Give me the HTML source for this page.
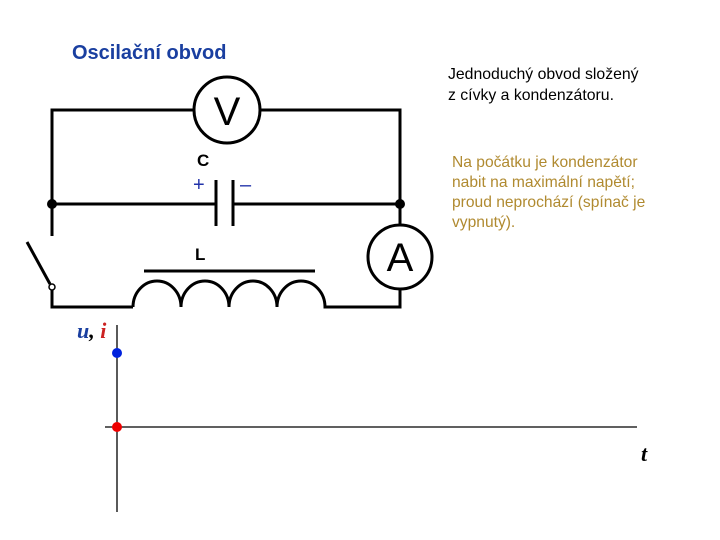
<!DOCTYPE html>
<html><head><meta charset="utf-8"><style>
body{margin:0;background:#fff;width:720px;height:540px;overflow:hidden;position:relative;font-family:"Liberation Sans",sans-serif}
.t{position:absolute;white-space:nowrap}
</style></head><body>
<svg width="720" height="540" style="position:absolute;left:0;top:0">
<g stroke="#000" stroke-width="3" fill="none">
<path d="M52 236 V110 H194 M260 110 H400 V225"/>
<circle cx="227" cy="110" r="33"/>
<path d="M52 204 H216 M233 204 H400"/>
<path d="M216 180 V226 M233 180 V226"/>
<path d="M27 242 L50 284"/>
<path d="M52 290 V307 H133"/>
<path d="M133 307 A24 26 0 0 1 181 307 A24 26 0 0 1 229 307 A24 26 0 0 1 277 307 A24 26 0 0 1 325 307 H400 V289"/>
<circle cx="400" cy="257" r="32"/>
<path d="M144 271 H315"/>
</g>
<circle cx="52" cy="287" r="3" fill="#fff" stroke="#000" stroke-width="1.5"/>
<circle cx="52" cy="204" r="5" fill="#000"/>
<circle cx="400" cy="204" r="5" fill="#000"/>
<g stroke="#000" stroke-width="1.3">
<path d="M117 325 V512 M105 427 H637"/>
</g>
<circle cx="117" cy="353" r="5" fill="#0022dd"/>
<circle cx="117" cy="427" r="5" fill="#ee0000"/>
<text x="227" y="125" font-family="Liberation Sans" font-size="40" text-anchor="middle">V</text>
<text x="400" y="271" font-family="Liberation Sans" font-size="40" text-anchor="middle">A</text>
</svg>
<div class="t" style="left:72px;top:42px;font-size:20px;font-weight:bold;color:#1a3fa0">Oscilační obvod</div>
<div class="t" style="left:197px;top:151px;font-size:17px;font-weight:bold">C</div>
<div class="t" style="left:193px;top:174px;font-size:20px;color:#2233aa">+</div>
<div class="t" style="left:240px;top:174px;font-size:20px;color:#2233aa">–</div>
<div class="t" style="left:195px;top:245px;font-size:17px;font-weight:bold">L</div>
<div class="t" style="left:77px;top:318px;font-size:22px;font-family:'Liberation Serif',serif;font-style:italic;font-weight:bold"><span style="color:#1a3fa0">u</span>, <span style="color:#cc2222">i</span></div>
<div class="t" style="left:641px;top:441px;font-size:22px;font-family:'Liberation Serif',serif;font-style:italic;font-weight:bold">t</div>
<div class="t" style="left:448px;top:64px;font-size:15.8px;line-height:21px">Jednoduchý obvod složený<br>z cívky a kondenzátoru.</div>
<div class="t" style="left:452px;top:153px;font-size:15.6px;line-height:20px;color:#b08a30">Na počátku je kondenzátor<br>nabit na maximální napětí;<br>proud neprochází (spínač je<br>vypnutý).</div>
</body></html>
